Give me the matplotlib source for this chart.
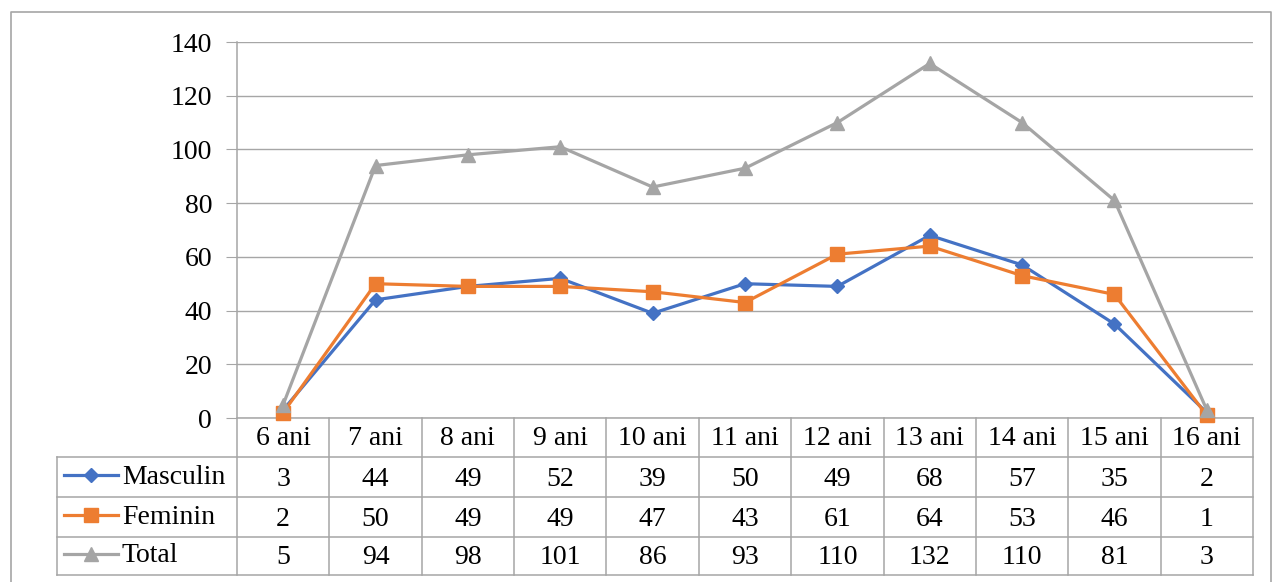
import matplotlib
matplotlib.use('Agg')
import matplotlib.pyplot as plt
from matplotlib.lines import Line2D
import numpy as np

categories = ["6 ani", "7 ani", "8 ani", "9 ani", "10 ani", "11 ani",
              "12 ani", "13 ani", "14 ani", "15 ani", "16 ani"]
masculin = [3, 44, 49, 52, 39, 50, 49, 68, 57, 35, 2]
feminin = [2, 50, 49, 49, 47, 43, 61, 64, 53, 46, 1]
total = [5, 94, 98, 101, 86, 93, 110, 132, 110, 81, 3]
series_names = ["Masculin", "Feminin", "Total"]
yticks = [0, 20, 40, 60, 80, 100, 120, 140]

colors = ["#4472C4", "#ED7D31", "#A5A5A5"]
markers = ["D", "s", "^"]
msizes = [7.5, 9.5, 9.5]
grid_c = "#A6A6A6"
font = "Liberation Serif"
fs = 20

W, H = 1273, 582
fig = plt.figure(figsize=(W / 100, H / 100), dpi=100)

# overlay axes in pixel coordinates for the frame and table
ov = fig.add_axes([0, 0, 1, 1])
ov.set_xlim(0, W)
ov.set_ylim(H, 0)
ov.axis("off")

x0, x1 = 237, 1253
y_top, y_zero = 42, 418
ax = fig.add_axes([x0 / W, 1 - y_zero / H, (x1 - x0) / W, (y_zero - y_top) / H])
ax.set_xlim(-0.5, len(categories) - 0.5)
ax.set_ylim(0, 140)
for s in ax.spines.values():
    s.set_visible(False)
ax.set_xticks([])
ax.set_yticks(yticks)
ax.set_yticklabels([str(v) for v in yticks], fontfamily=font, fontsize=fs)
ax.tick_params(axis="y", length=8, color=grid_c, pad=10)
ax.yaxis.grid(True, color=grid_c, linewidth=1)
ax.set_axisbelow(True)
ax.patch.set_alpha(0)

xs = np.arange(len(categories))
data = [masculin, feminin, total]
for vals, c, m, ms in zip(data, colors, markers, msizes):
    ax.plot(xs, vals, color=c, marker=m, markersize=ms, linewidth=2.3, clip_on=False)

# outer frame
ov.plot([11, 11, 1271, 1271], [H + 5, 12, 12, H + 5], color=grid_c, linewidth=1.2)

# table
ncol = len(categories)
cw = (x1 - x0) / ncol
tl = 57
rows_y = [418, 457, 497, 537, 575]
lw = 1.1
# y axis line
ov.plot([x0, x0], [y_top, rows_y[-1]], color=grid_c, linewidth=lw)
# horizontal lines
ov.plot([x0, x1], [rows_y[0], rows_y[0]], color=grid_c, linewidth=lw)
for yy in rows_y[1:]:
    ov.plot([tl, x1], [yy, yy], color=grid_c, linewidth=lw)
# vertical lines
for i in range(1, ncol + 1):
    xx = x0 + i * cw
    ov.plot([xx, xx], [rows_y[0], rows_y[-1]], color=grid_c, linewidth=lw)
ov.plot([tl, tl], [rows_y[1], rows_y[-1]], color=grid_c, linewidth=lw)

for i, cat in enumerate(categories):
    ov.text(x0 + (i + 0.5) * cw, (rows_y[0] + rows_y[1]) / 2 + 1, cat,
            ha="center", va="center", fontfamily=font, fontsize=fs)
for r, (name, vals) in enumerate(zip(series_names, data)):
    yc = (rows_y[r + 1] + rows_y[r + 2]) / 2
    for i, v in enumerate(vals):
        ov.text(x0 + (i + 0.5) * cw, yc + 2, str(v), ha="center", va="center",
                fontfamily=font, fontsize=fs)
    ov.add_line(Line2D([64, 91, 118], [yc - 2, yc - 2, yc - 2], color=colors[r],
                       linewidth=2.3, marker=markers[r], markersize=msizes[r],
                       markevery=[1]))
    ov.text(122, yc, name, ha="left", va="center", fontfamily=font, fontsize=fs)

fig.savefig("out.png", dpi=100)
